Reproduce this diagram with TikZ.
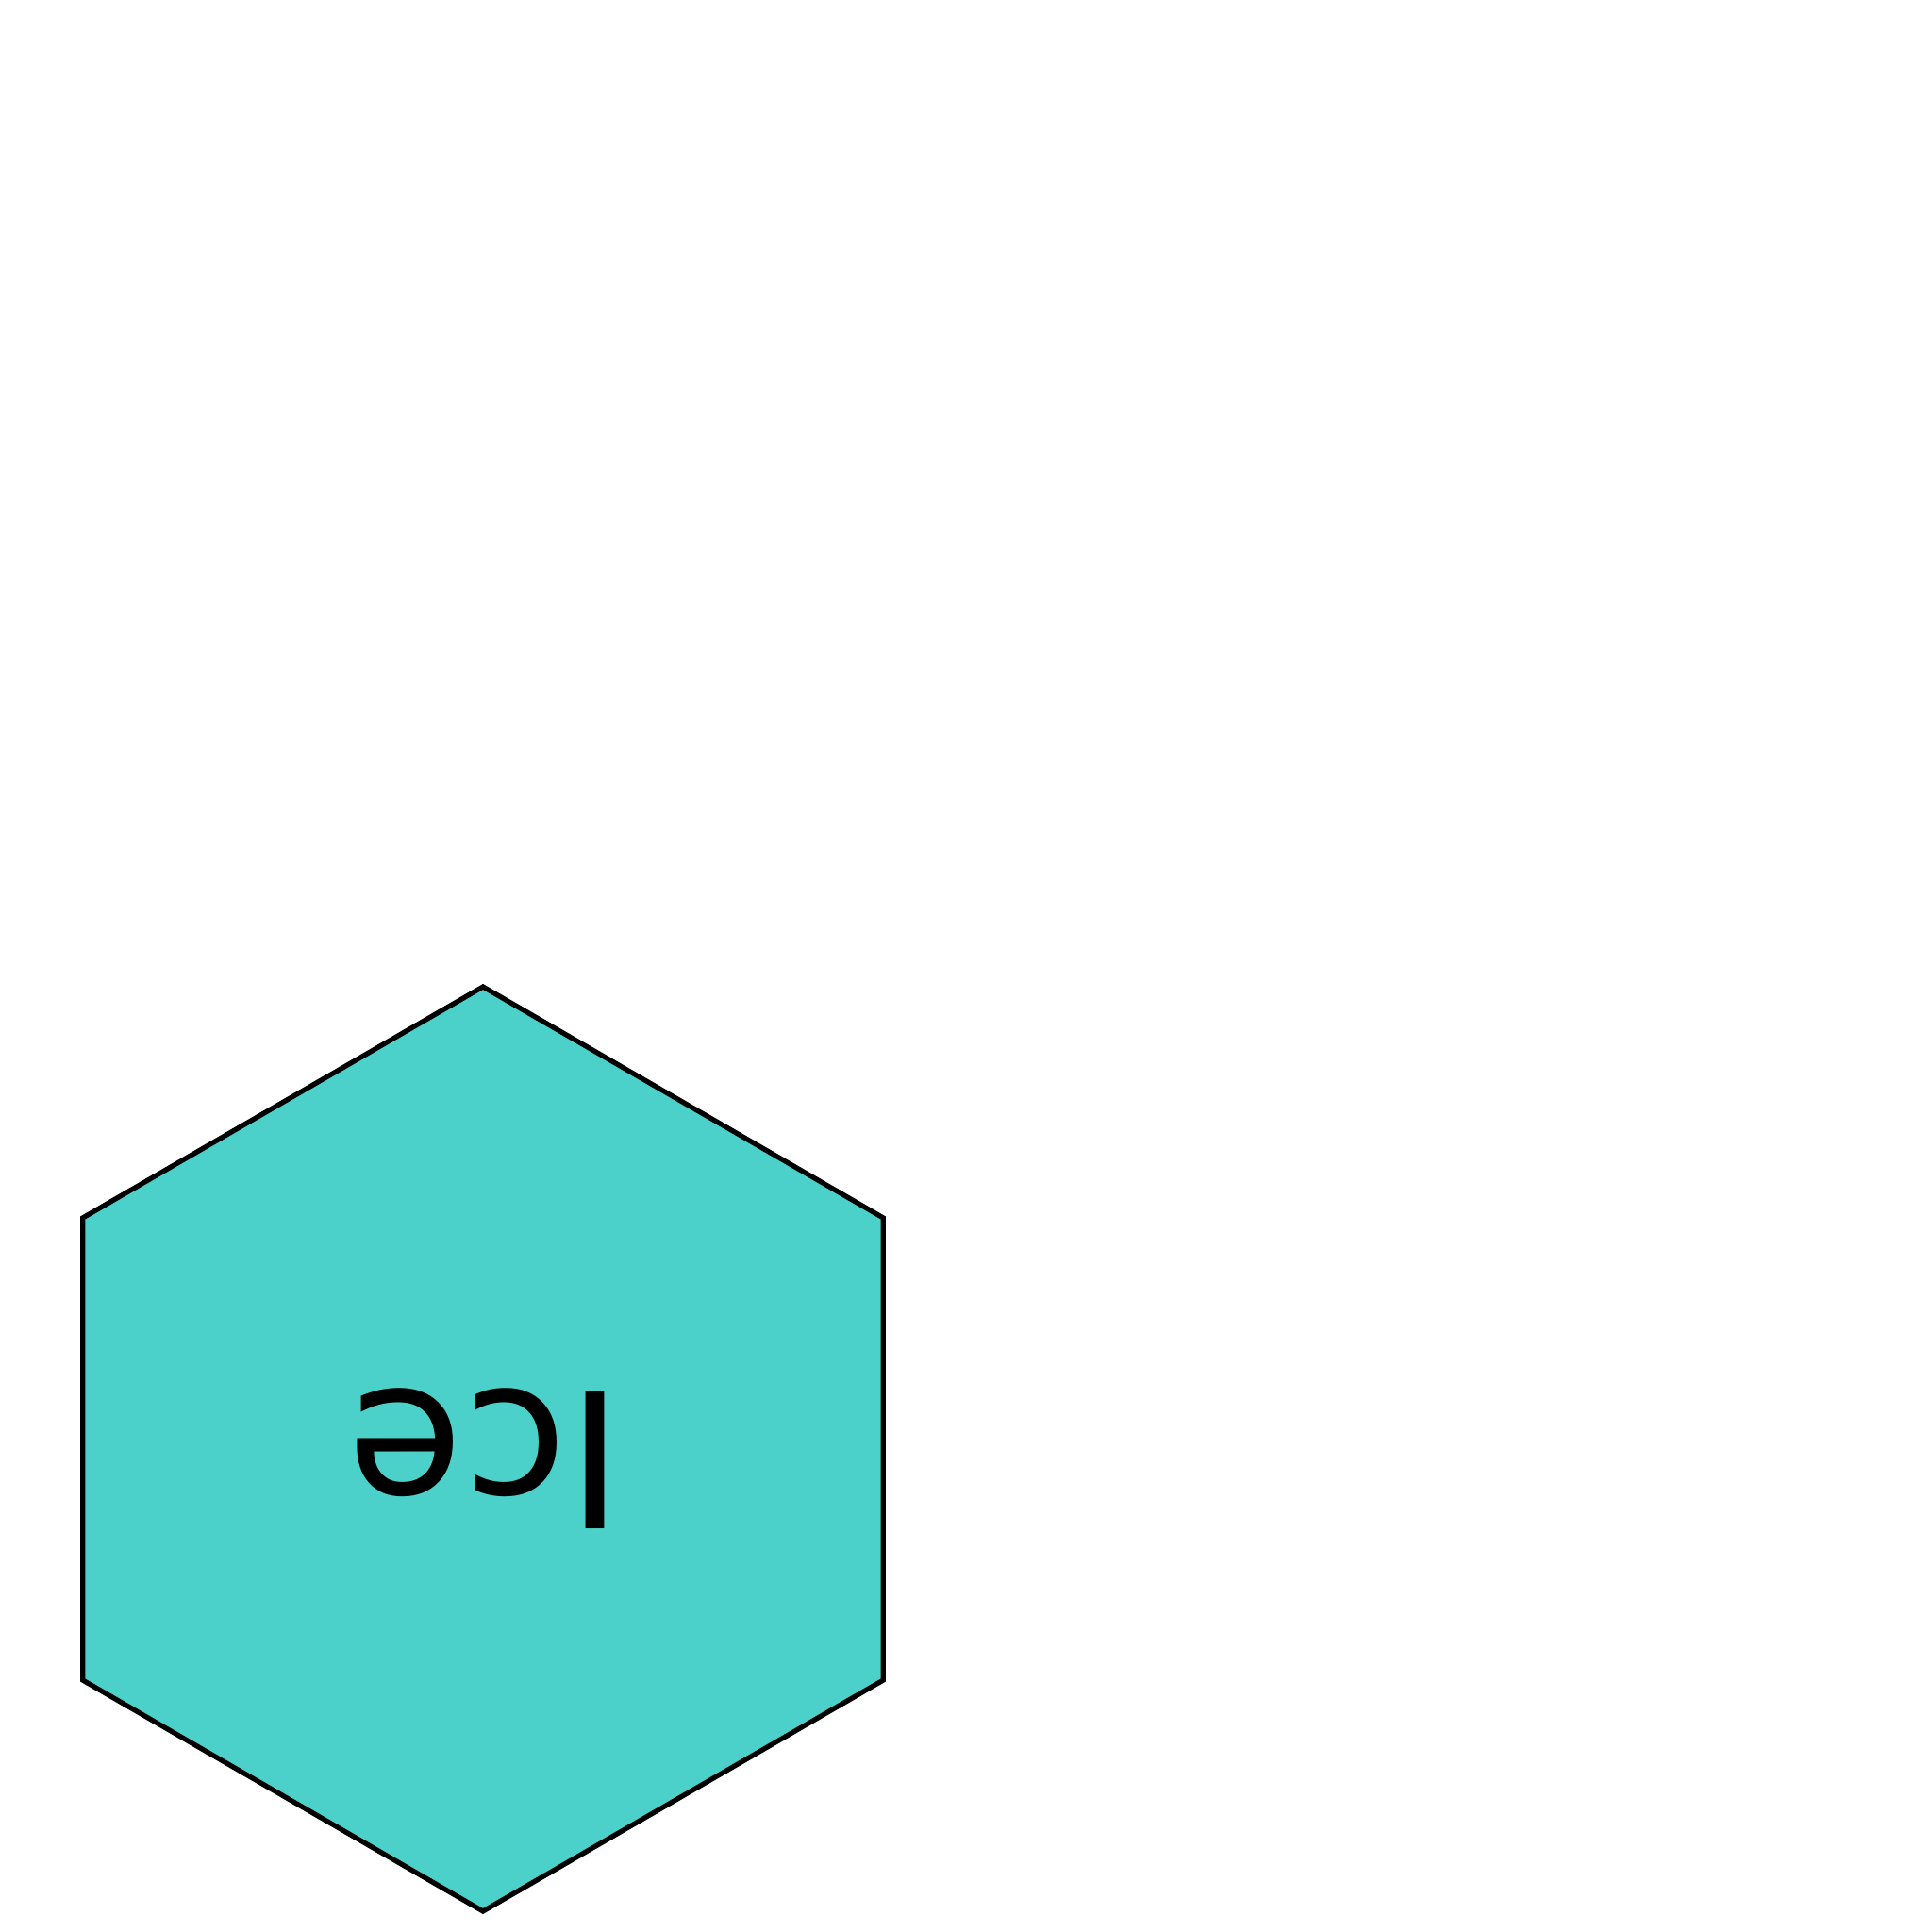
\documentclass[tikz,border=0pt]{standalone}
\usepackage{fontspec}
\setmainfont{DejaVu Sans}
\usetikzlibrary{shapes.geometric}
\definecolor{icefill}{HTML}{4BD1CA}
\tikzset{hexbox/.style={regular polygon, regular polygon sides=6, shape border rotate=90, minimum size=9.8cm, inner sep=0pt, draw=black, line width=1.5pt, fill=icefill}}
\begin{document}
\begin{tikzpicture}
\useasboundingbox (0,0) rectangle (20.48,20.48);
\node[hexbox] (hex) at (5.12,5.12) {};
\node[rotate=180, inner sep=0pt, font=\fontsize{57}{60}\selectfont] (lbl) at (5.145,5.02) {Ice};
\end{tikzpicture}
\end{document}
